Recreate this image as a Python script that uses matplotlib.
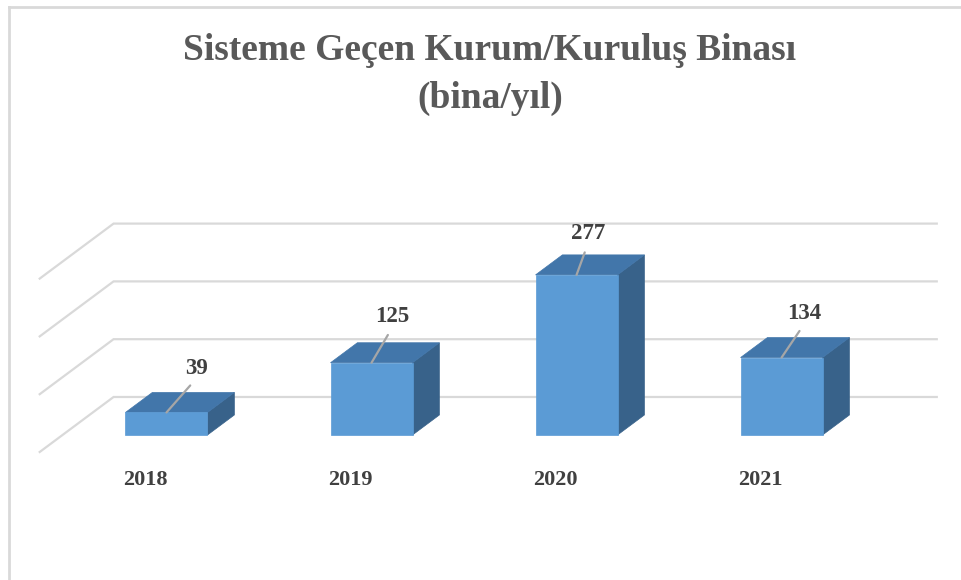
import matplotlib
matplotlib.use("Agg")
import matplotlib.pyplot as plt
from matplotlib.patches import Polygon, Rectangle
from matplotlib.lines import Line2D

# ---- data ----
years = ["2018", "2019", "2020", "2021"]
values = [39, 125, 277, 134]
grid_values = [0, 100, 200, 300]
title_line1 = "Sisteme Geçen Kurum/Kuruluş Binası"
title_line2 = "(bina/yıl)"
# manual label offsets (points) like the Excel chart's moved data labels
label_offsets = [(21.5, 32), (15, 33), (8, 29.5), (16.5, 32)]

# ---- style ----
FRONT = "#5B9BD5"
TOP = "#4276AA"
SIDE = "#38628A"
GRID = "#D9D9D9"
TXT = "#404040"
TITLE_C = "#595959"
SERIF = ["Liberation Serif", "DejaVu Serif"]

fig = plt.figure(figsize=(9.62, 5.8), dpi=100)
ax = fig.add_axes([0, 0, 1, 1])
ax.set_xlim(-0.812, 3.880)
ax.set_ylim(-250.9, 752.6)
ax.axis("off")

# pseudo-3D projection: depth vector per unit of bar depth
DX, DY = 0.131, 34.6
BACK = 1.9      # depth of back wall
FRONT_FLOOR = -0.85
X_LEFT, X_RIGHT = -0.507, 3.508
HALF = 0.2


def proj(x, v, d):
    return (x + d * DX, v + d * DY)


# gridlines: back wall + left wall
for gv in grid_values:
    p1 = proj(X_LEFT, gv, FRONT_FLOOR)
    p2 = proj(X_LEFT, gv, BACK)
    p3 = proj(X_RIGHT, gv, BACK)
    ax.plot([p1[0], p2[0], p3[0]], [p1[1], p2[1], p3[1]], color=GRID,
            lw=1.6, solid_joinstyle="miter", zorder=1)

# bars
for i, v in enumerate(values):
    x0, x1 = i - HALF, i + HALF
    front = Rectangle((x0, 0), x1 - x0, v, facecolor=FRONT, edgecolor=FRONT,
                      lw=0.5, zorder=3)
    top = Polygon([proj(x0, v, 0), proj(x1, v, 0), proj(x1, v, 1), proj(x0, v, 1)],
                  closed=True, facecolor=TOP, edgecolor=TOP, lw=0.5, zorder=3)
    side = Polygon([proj(x1, 0, 0), proj(x1, v, 0), proj(x1, v, 1), proj(x1, 0, 1)],
                   closed=True, facecolor=SIDE, edgecolor=SIDE, lw=0.5, zorder=3)
    for p in (side, top, front):
        ax.add_patch(p)

    # value label with leader line
    ax.annotate(str(v), xy=(i, v), xytext=label_offsets[i], textcoords="offset points",
                ha="center", va="center", fontsize=16.5, fontweight="bold",
                color=TXT, family=SERIF, zorder=5,
                arrowprops=dict(arrowstyle="-", color="#A6A6A6", lw=1.6,
                                relpos=(0.5, 0.0), shrinkA=4, shrinkB=0))

    # category label
    lx, ly = proj(i, 0, FRONT_FLOOR)
    ax.annotate(years[i], xy=(lx, ly), xytext=(1.5, -20.5), textcoords="offset points",
                ha="center", va="center", fontsize=16, fontweight="bold",
                color=TXT, family=SERIF)

# title
fig.text(490 / 962, 1 - 51 / 580, title_line1, ha="center", va="center", fontsize=27,
         fontweight="bold", color=TITLE_C, family=SERIF)
fig.text(490 / 962, 1 - 98 / 580, title_line2, ha="center", va="center", fontsize=27,
         fontweight="bold", color=TITLE_C, family=SERIF)

# chart area border (left and top visible)
fig.add_artist(Line2D([9 / 962, 9 / 962], [0, 1 - 7 / 580], transform=fig.transFigure,
                      color=GRID, lw=2))
fig.add_artist(Line2D([9 / 962, 1], [1 - 7 / 580, 1 - 7 / 580], transform=fig.transFigure,
                      color=GRID, lw=2))

fig.savefig("out.png", dpi=100, facecolor="white")
